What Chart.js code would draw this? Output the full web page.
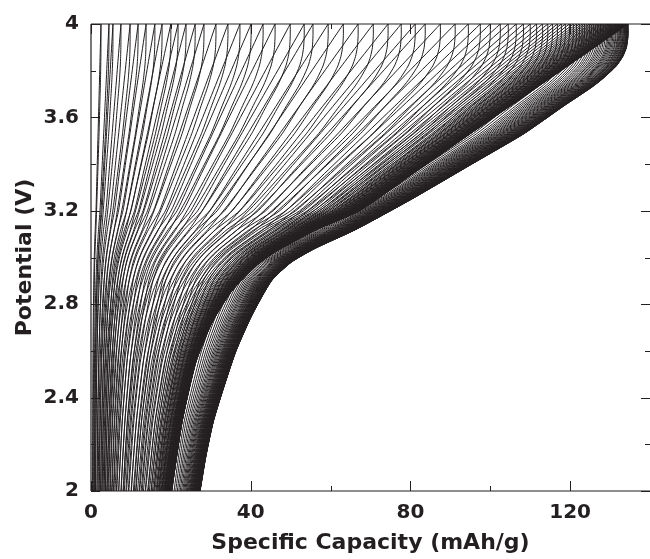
<!DOCTYPE html>
<html>
<head>
<meta charset="utf-8">
<script src="https://cdn.jsdelivr.net/npm/chart.js@4.4.0/dist/chart.umd.min.js"></script>
<style>
  html, body { margin: 0; padding: 0; background: #fff; overflow: hidden; }
  canvas { display: block; }
</style>
</head>
<body>
<canvas id="chart" width="650" height="559"></canvas>
<script>
// Capacity reached at the 4 V cut-off for each successive cycle (mAh/g)
const cycleCapacity = [
  2.5, 4.5, 5.5, 7.5, 9.8, 11.8, 13.8, 16.0, 17.8, 20.0, 21.8, 23.8, 26.1,
  28.3, 31.3, 34.3, 37.3, 40.1, 43.1, 46.1, 49.9, 53.4,
  55.6, 59.4, 63.2, 66.9, 70.7, 74.4, 77.7, 81.2,
  83.7, 87.5, 91.2, 94.5, 97.5, 100.0, 102.5, 104.5, 106.5, 108.3,
  110.0, 111.6, 113.1, 114.4, 115.6, 116.8, 117.8, 118.8, 119.8, 120.8,
  121.6, 122.3, 123.0, 123.6, 124.2, 124.8, 125.3, 125.8, 126.3, 126.8,
  127.2, 127.6, 128.0, 128.4, 128.8, 129.2, 129.5, 129.8, 130.1, 130.4,
  130.7, 131.0, 131.3, 131.5, 131.8, 132.0, 132.2, 132.4, 132.6, 132.8,
  133.0, 133.2, 133.3, 133.5, 133.6, 133.8, 133.9, 134.0, 134.1, 134.2,
  134.3, 134.4, 134.4, 134.5, 134.5
];

// Charge profile: fraction of the cycle capacity vs potential (V)
const chargeFrac = [0.15, 0.17, 0.195, 0.225, 0.26, 0.30, 0.34, 0.42,
                    0.50, 0.60, 0.70, 0.80, 0.90, 1.0];
const chargeVolt = [2.0, 2.3, 2.55, 2.72, 2.85, 2.95, 3.02, 3.12,
                    3.20, 3.36, 3.52, 3.68, 3.84, 4.0];

// Discharge profile: fraction of the cycle capacity vs potential (V)
const dischargeFrac = [1.0, 1.0, 0.997, 0.99, 0.978, 0.955, 0.933, 0.881, 0.806, 0.709, 0.597,
                       0.493, 0.418, 0.373, 0.336, 0.299, 0.270, 0.248, 0.228, 0.214, 0.203];
const dischargeVolt = [4.0, 3.95, 3.9, 3.86, 3.82, 3.77, 3.73, 3.65, 3.53, 3.40, 3.25,
                       3.12, 3.04, 2.98, 2.90, 2.75, 2.60, 2.45, 2.30, 2.15, 2.0];

// Axis ticks
const xMajorTicks = [0, 40, 80, 120];
const xMinorTicks = [20, 60, 100];
const yMajorTicks = [2, 2.4, 2.8, 3.2, 3.6, 4];
const yMinorTicks = [2.2, 2.6, 3.0, 3.4, 3.8];

const ink = '#231f20';
const labelFont = { family: '"DejaVu Sans", sans-serif', size: 20, weight: 'bold' };
const titleFont = { family: '"DejaVu Sans", sans-serif', size: 22, weight: 'bold' };

const datasets = [];
cycleCapacity.forEach((q) => {
  datasets.push({
    data: chargeFrac.map((f, i) => ({ x: f * q, y: chargeVolt[i] })),
    borderColor: ink, borderWidth: 1, pointRadius: 0, showLine: true, tension: 0.2
  });
  datasets.push({
    data: dischargeFrac.map((f, i) => ({ x: f * q, y: dischargeVolt[i] })),
    borderColor: ink, borderWidth: 1, pointRadius: 0, showLine: true, tension: 0.2
  });
});

// Frame and inward tick marks
const frameAndTicks = {
  id: 'frameAndTicks',
  afterDraw(chart) {
    const { ctx, chartArea: a, scales: { x, y } } = chart;
    ctx.save();
    ctx.strokeStyle = ink;
    ctx.lineWidth = 1.2;
    ctx.beginPath();
    ctx.moveTo(a.left, a.top); ctx.lineTo(a.right, a.top);
    ctx.moveTo(a.left, a.top); ctx.lineTo(a.left, a.bottom);
    ctx.moveTo(a.left, a.bottom); ctx.lineTo(a.right, a.bottom);
    ctx.stroke();
    ctx.lineWidth = 1;
    ctx.beginPath();
    xMajorTicks.concat(xMinorTicks).forEach((v) => {
      const len = xMajorTicks.includes(v) ? 10 : 5;
      const px = Math.round(x.getPixelForValue(v)) + 0.5;
      ctx.moveTo(px, a.bottom); ctx.lineTo(px, a.bottom - len);
      ctx.moveTo(px, a.top); ctx.lineTo(px, a.top + len);
    });
    yMajorTicks.concat(yMinorTicks).forEach((v) => {
      const len = yMajorTicks.includes(v) ? 9 : 5;
      const py = Math.round(y.getPixelForValue(v)) + 0.5;
      ctx.moveTo(a.left, py); ctx.lineTo(a.left + len, py);
      ctx.moveTo(a.right, py); ctx.lineTo(a.right - len, py);
    });
    ctx.stroke();
    ctx.restore();
  }
};

new Chart(document.getElementById('chart'), {
  type: 'scatter',
  data: { datasets },
  options: {
    responsive: false,
    animation: false,
    devicePixelRatio: 1,
    layout: { padding: { top: 23, right: 0, left: 0, bottom: 0 } },
    plugins: { legend: { display: false }, tooltip: { enabled: false } },
    scales: {
      x: {
        type: 'linear', min: 0, max: 140,
        afterFit(scale) { scale.height = 68; scale.paddingLeft = 0; scale.paddingRight = 0; },
        border: { display: false },
        grid: { display: false, drawTicks: false },
        ticks: {
          stepSize: 20, padding: 10, color: ink, font: labelFont, maxRotation: 0,
          callback: (v) => (xMajorTicks.includes(v) ? String(v) : '')
        },
        title: { display: true, text: 'Specific Capacity (mAh/g)', color: ink, font: titleFont,
                 padding: { top: 0, bottom: 3 } }
      },
      y: {
        type: 'linear', min: 2, max: 4,
        afterFit(scale) { scale.width = 91; },
        border: { display: false },
        grid: { display: false, drawTicks: false },
        ticks: {
          stepSize: 0.2, padding: 12, color: ink, font: labelFont,
          callback: (v) => {
            const r = Math.round(v * 10) / 10;
            return yMajorTicks.includes(r) ? String(r) : '';
          }
        },
        title: { display: true, text: 'Potential (V)', color: ink, font: titleFont,
                 padding: { top: 12, bottom: 0 } }
      }
    }
  },
  plugins: [frameAndTicks]
});
</script>
</body>
</html>
